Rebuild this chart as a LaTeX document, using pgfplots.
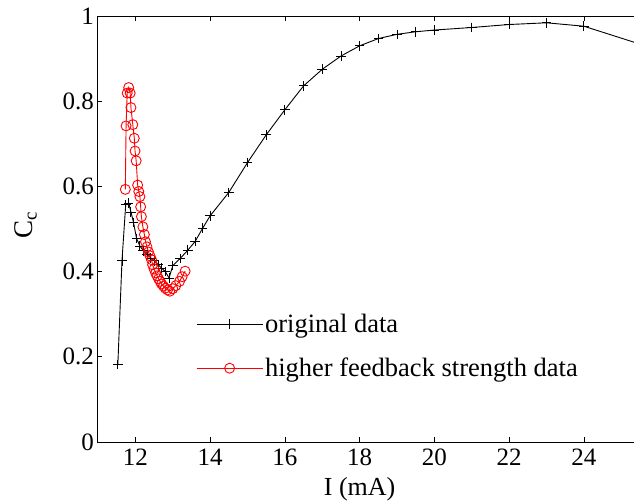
\documentclass[border=0pt]{standalone}
\usepackage{fontspec}
\setmainfont{Liberation Serif}
\usepackage{pgfplots}
\pgfplotsset{compat=1.18}
\begin{document}
\begin{tikzpicture}
\begin{axis}[
  at={(0pt,0pt)}, anchor=south west,
  scale only axis,
  width=598.7pt, height=426pt,
  xmin=10.98, xmax=27, ymin=0, ymax=1,
  xtick={12,14,16,18,20,22,24},
  ytick={0,0.2,0.4,0.6,0.8,1},
  tick align=inside,
  major tick length=5pt,
  tick style={black, line width=0.6pt},
  axis line style={line width=0.8pt},
  /pgf/number format/assume math mode=true,
  tick label style={font=\fontsize{25}{30}\selectfont},
  xticklabel style={yshift=-3pt},
  xlabel={I (mA)}, ylabel={C\textsubscript{c}},
  xlabel style={font=\fontsize{26}{31}\selectfont, at={(axis cs:18,0)}, anchor=base, yshift=-54pt},
  every axis y label/.style={font=\fontsize{27}{32}\selectfont, at={(axis description cs:-0.095,0.51)}, rotate=90, anchor=south},
  legend style={draw=none, fill=none, at={(axis cs:13.62,0.305)}, anchor=north west,
    font=\fontsize{26.5}{31}\selectfont, inner sep=0pt, row sep=20pt, cells={anchor=west}},
  legend image code/.code={\draw[mark repeat=2, mark phase=2, #1] plot coordinates {(0pt,0pt) (33pt,0pt) (66pt,0pt)};},
]
\addplot[black, line width=0.9pt, mark=+, mark size=4.8pt, mark options={line width=0.9pt}] coordinates {
(11.53,0.182) (11.64,0.425) (11.74,0.557) (11.82,0.561) (11.88,0.540) (11.95,0.515)
(12.03,0.478) (12.12,0.460) (12.21,0.449) (12.31,0.440) (12.41,0.432) (12.51,0.425)
(12.61,0.416) (12.70,0.408) (12.80,0.400) (12.90,0.385) (13.0,0.414) (13.2,0.431)
(13.4,0.450) (13.6,0.471) (13.8,0.502) (14.0,0.531) (14.5,0.586) (15.0,0.656)
(15.5,0.721) (16.0,0.780) (16.5,0.836) (17.0,0.875) (17.5,0.906) (18.0,0.930)
(18.5,0.947) (19.0,0.957) (19.5,0.963) (20.0,0.967) (21.0,0.973) (22.0,0.980)
(23.0,0.984) (24.0,0.976) (26.0,0.920)
};
\addlegendentry{original data}
\addplot[red, line width=0.9pt, mark=o, mark size=5pt, mark options={line width=0.9pt}] coordinates {
(11.73,0.593) (11.75,0.742) (11.78,0.819) (11.82,0.832) (11.86,0.819) (11.88,0.785)
(11.93,0.745) (11.97,0.713) (11.99,0.683) (12.02,0.660) (12.06,0.603) (12.09,0.588)
(12.12,0.576) (12.14,0.552) (12.16,0.529) (12.20,0.505) (12.24,0.487) (12.27,0.470)
(12.31,0.458) (12.35,0.446) (12.39,0.437) (12.43,0.428) (12.46,0.416) (12.50,0.406)
(12.54,0.397) (12.58,0.390) (12.62,0.383) (12.66,0.377) (12.70,0.371) (12.75,0.366)
(12.80,0.361) (12.86,0.357) (12.92,0.354) (13.00,0.360) (13.08,0.367) (13.18,0.377)
(13.25,0.388) (13.33,0.401)
};
\addlegendentry{higher feedback strength data}
\end{axis}
\pgfresetboundingbox
\path[use as bounding box] (-97.3pt,-60pt) rectangle (536.7pt,442pt);
\end{tikzpicture}
\end{document}
